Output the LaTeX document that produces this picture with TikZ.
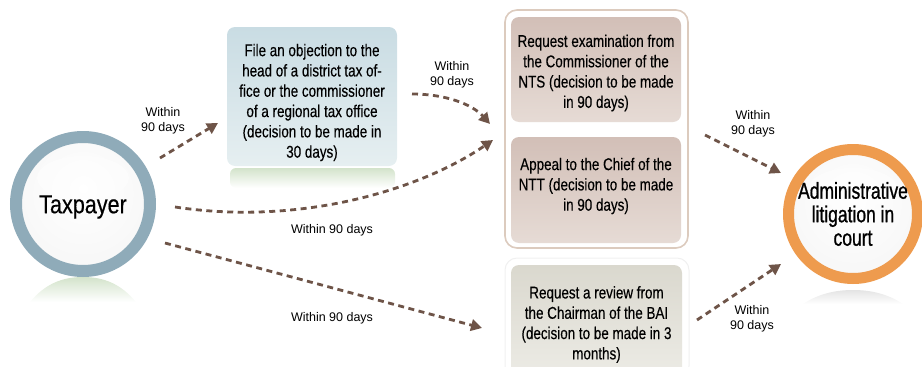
\documentclass[tikz,border=0pt]{standalone}
\usepackage{fontspec}
\setmainfont{Liberation Sans}
\newfontfamily\condfont[FakeStretch=0.79,FakeBold=0.3]{Liberation Sans}
\newfontfamily\taxfont[FakeStretch=0.83,FakeBold=0.4]{Liberation Sans}
\newfontfamily\circfont[FakeStretch=0.76,FakeBold=0.9]{Liberation Sans}
\usetikzlibrary{arrows.meta}

\definecolor{arrowbrown}{HTML}{6E5448}
\definecolor{taxring}{HTML}{8FABB9}
\definecolor{admring}{HTML}{EE9B4E}
\definecolor{framebrown}{HTML}{DCCBBE}
\definecolor{objtop}{HTML}{C9DCE3}
\definecolor{objbot}{HTML}{E6EFF1}
\definecolor{ntstop}{HTML}{D2BFB7}
\definecolor{ntsbot}{HTML}{E6DBD5}
\definecolor{baitop}{HTML}{DAD8CE}
\definecolor{baibot}{HTML}{ECEBE5}
\definecolor{refgreen}{HTML}{D3E3CB}
\definecolor{refgray}{HTML}{E4E4E4}

% soft glassy fill for the two round nodes
\pgfdeclareradialshading{glass}{\pgfpoint{0bp}{6bp}}{%
  color(0bp)=(white); color(26bp)=(white!97!black);
  color(42bp)=(white!90!black); color(52bp)=(white!80!black)}

\tikzset{
  ringnode/.style={circle, shading=glass, inner sep=0pt},
  panel/.style={rounded corners=8pt, inner sep=0pt},
  boxtext/.style={align=center, inner sep=0pt,
    font=\condfont\fontsize{17}{20.3}\selectfont},
  daylabel/.style={align=center, inner sep=0pt,
    font=\fontsize{12.5}{15}\selectfont},
  flow/.style={draw=arrowbrown, line width=2.8pt,
    dash pattern=on 6pt off 4.5pt,
    -{Triangle[length=11pt,width=11.5pt]}},
}

\begin{document}
\begin{tikzpicture}[x=1pt,y=-1pt]
\useasboundingbox (0,0) rectangle (922,367);

% reflections under the round nodes and the objection panel
\path[top color=refgreen, bottom color=white]
  (30,302) .. controls (45,284) and (62,277) .. (83,277)
  .. controls (104,277) and (121,284) .. (136,302) -- cycle;
\path[top color=refgray, bottom color=white]
  (803,304) .. controls (818,294) and (835,290) .. (853,290)
  .. controls (871,290) and (888,294) .. (903,304) -- cycle;
\path[top color=refgreen, bottom color=white, rounded corners=6pt]
  (230,168) rectangle (395,188);

% left: taxpayer
\node[ringnode, draw=taxring, line width=12pt, minimum size=134pt] (tax) at (83,204) {};
\fill[white, opacity=0.4] (83,178) ellipse [x radius=46, y radius=22];
\node[inner sep=0pt, font=\taxfont\fontsize{26}{28}\selectfont] (taxtext) at (83,207) {Taxpayer};

% objection panel
\node[panel, top color=objtop, bottom color=objbot, minimum width=170pt, minimum height=139pt] (obj) at (312,96.5) {};
\node[boxtext] (objtext) at (312,102.5) {File an objection to the\\head of a district tax of-\\fice or the commissioner\\of a regional tax office\\(decision to be made in\\30 days)};

% framed group of NTS / NTT panels
\node[draw=framebrown, line width=1.6pt, rounded corners=12pt, fill=white,
      minimum width=183pt, minimum height=238pt, inner sep=0pt] (group) at (596.5,129) {};
\node[panel, top color=ntstop, bottom color=ntsbot, minimum width=170pt, minimum height=105pt] (nts) at (596,69.5) {};
\node[boxtext] (ntstext) at (596,73) {Request examination from\\the Commissioner of the\\NTS (decision to be made\\in 90 days)};
\node[panel, top color=ntstop, bottom color=ntsbot, minimum width=170pt, minimum height=106pt] (ntt) at (596,190) {};
\node[boxtext] (ntttext) at (596,186) {Appeal to the Chief of the\\NTT (decision to be made\\in 90 days)};

% BAI panel
\node[draw=black!6, line width=1pt, rounded corners=12pt, fill=white,
      minimum width=184pt, minimum height=120pt, inner sep=0pt] (baiframe) at (597,318) {};
\node[panel, top color=baitop, bottom color=baibot, minimum width=171pt, minimum height=110pt] (bai) at (596.5,320) {};
\node[boxtext] (baitext) at (596.5,324.5) {Request a review from\\the Chairman of the BAI\\(decision to be made in 3\\months)};

% right: court
\node[ringnode, draw=admring, line width=11pt, minimum size=129pt] (adm) at (853,214) {};
\fill[white, opacity=0.4] (853,188) ellipse [x radius=44, y radius=20];
\node[align=center, inner sep=0pt, font=\circfont\fontsize{23}{23.5}\selectfont] (admtext) at (853,214) {Administrative\\litigation in\\court};

% connector end points
\coordinate (a1s) at (160,158); \coordinate (a1e) at (218,123);
\coordinate (a2s) at (412,94);  \coordinate (a2e) at (490,124);
\coordinate (a3s) at (175,207); \coordinate (a3e) at (493,140);
\coordinate (a4s) at (165,243); \coordinate (a4e) at (482,328);
\coordinate (a5s) at (705,135); \coordinate (a5e) at (781,173);
\coordinate (a6s) at (697,320); \coordinate (a6e) at (781,264);

% connectors
\draw[flow] (a1s) -- (a1e);
\draw[flow] (a2s) .. controls (445,94) and (472,104) .. (a2e);
\draw[flow] (a3s) .. controls (300,226) and (420,190) .. (a3e);
\draw[flow] (a4s) -- (a4e);
\draw[flow] (a5s) -- (a5e);
\draw[flow] (a6s) -- (a6e);

% time limits
\node[daylabel] (l1) at (163,120.5) {Within\\90 days};
\node[daylabel] (l2) at (452,74.5) {Within\\90 days};
\node[daylabel] (l3) at (332,230) {Within 90 days};
\node[daylabel] (l4) at (332,318) {Within 90 days};
\node[daylabel] (l5) at (753,123.5) {Within\\90 days};
\node[daylabel] (l6) at (752,318.5) {Within\\90 days};
\end{tikzpicture}
\end{document}
